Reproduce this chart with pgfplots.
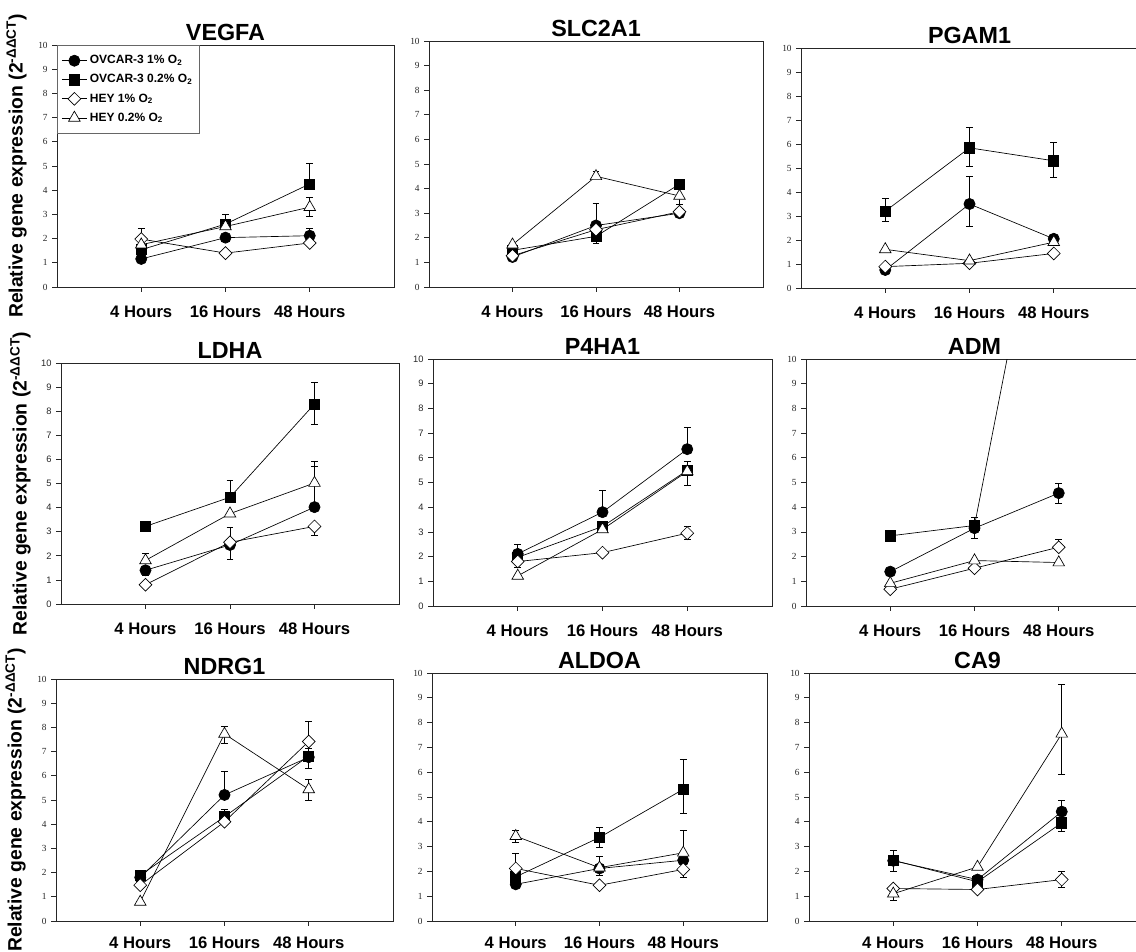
\documentclass[border=0pt]{standalone}
\usepackage{fontspec}
\setmainfont{Liberation Sans}
\newfontfamily\tickserif{Liberation Serif}
\usepackage{pgfplots}
\pgfplotsset{compat=1.18}
\pgfplotsset{
  table/x=x, table/y=y, table/y error plus=ep, table/y error minus=em,
  panel/.style={
    scale only axis, anchor=south west,
    xmin=0, xmax=4, ymin=0, ymax=10,
    xtick={1,2,3}, xticklabels={4 Hours,16 Hours,48 Hours},
    ytick={0,1,...,10},
    tick align=outside, xtick pos=bottom, ytick pos=left,
    major tick length=3.5pt,
    axis line style={line width=0.6pt, black!85},
    tick style={line width=0.5pt, black!85},
    clip marker paths=true,
    title style={font=\bfseries\fontsize{17.5}{19}\selectfont, at={(0.5,1)}, anchor=base, yshift=-2.75pt},
    xticklabel style={font=\bfseries\fontsize{12.5}{14}\selectfont, yshift=-7pt},
    yticklabel style={font=\tickserif\fontsize{7}{8}\selectfont, black!85},
    /pgf/number format/assume math mode=true,
    ylabel style={font=\bfseries\fontsize{14.5}{17}\selectfont, at={(axis description cs:-0.12,0.5)}, anchor=center},
    error bars/y dir=both, error bars/y explicit,
    error bars/error bar style={line width=0.5pt, black},
    error bars/error mark options={rotate=90, mark size=2.6pt, line width=0.5pt, black},
    legend image code/.code={\draw[mark repeat=2,mark phase=2] plot coordinates {(0cm,0cm) (0.33cm,0cm) (0.66cm,0cm)};},
  },
  bottomrow/.style={xticklabel style={yshift=2pt}},
  sansticks/.style={yticklabel style={font=\fontsize{7}{8}\selectfont}},
  sA/.style={black, solid, line width=0.5pt, mark=*, mark size=4.2pt, mark options={fill=black, draw=black}},
  sB/.style={black, solid, line width=0.5pt, mark=square*, mark size=3.8pt, mark options={fill=black, draw=black}},
  sC/.style={black, solid, line width=0.5pt, mark=square*, mark size=3.4pt, mark options={rotate=45, fill=white, draw=black}},
  sD/.style={black, solid, line width=0.5pt, mark=triangle*, mark size=5pt, mark options={fill=white, draw=black}},
}
\newcommand\ylab{Relative gene expression (2\textsuperscript{-ΔΔCT})}
\begin{document}
\begin{tikzpicture}
\useasboundingbox (0,0) rectangle (852pt,-714pt);
% ---------------- VEGFA
\begin{axis}[panel, at={(42.75pt,-215.25pt)}, width=252.75pt, height=181.5pt, title={VEGFA}, ylabel={\ylab},
  legend cell align=left,
  legend style={at={(0,1)}, anchor=north west, draw=black!60, line width=0.8pt, fill=white,
    font=\bfseries\fontsize{9}{10}\selectfont, row sep=2.5pt, inner xsep=3pt, inner ysep=5.5pt}]
\addplot[sA] table {x y ep em
1 1.16 0 0
2 2.04 0.12 0
3 2.12 0.30 0
};
\addlegendentry{OVCAR-3 1\% O\textsubscript{2}}
\addplot[sB] table {x y ep em
1 1.54 0 0
2 2.60 0.42 0
3 4.26 0.83 0
};
\addlegendentry{OVCAR-3 0.2\% O\textsubscript{2}}
\addplot[sC] table {x y ep em
1 1.98 0.45 0
2 1.40 0 0
3 1.82 0 0
};
\addlegendentry{HEY 1\% O\textsubscript{2}}
\addplot[sD] table {x y ep em
1 1.75 0 0
2 2.50 0 0
3 3.30 0.40 0.38
};
\addlegendentry{HEY 0.2\% O\textsubscript{2}}
\end{axis}
% ---------------- SLC2A1
\begin{axis}[panel, at={(321.75pt,-215.25pt)}, width=250.5pt, height=184.5pt, title={SLC2A1}]
\addplot[sA] table {x y ep em
1 1.22 0 0
2 2.50 0.90 0
3 3.00 0 0
};
\addplot[sB] table {x y ep em
1 1.49 0 0
2 2.06 0 0.30
3 4.18 0 0
};
\addplot[sC] table {x y ep em
1 1.27 0 0
2 2.33 0 0
3 3.06 0 0
};
\addplot[sD] table {x y ep em
1 1.72 0 0
2 4.50 0.20 0
3 3.70 0 0.35
};
\end{axis}
% ---------------- PGAM1
\begin{axis}[panel, at={(600.75pt,-216pt)}, width=252.75pt, height=180pt, title={PGAM1}]
\addplot[sA] table {x y ep em
1 0.75 0 0
2 3.50 1.15 0.92
3 2.05 0 0
};
\addplot[sB] table {x y ep em
1 3.20 0.52 0.41
2 5.84 0.85 0.75
3 5.30 0.79 0.70
};
\addplot[sC] table {x y ep em
1 0.89 0 0
2 1.03 0 0
3 1.44 0 0
};
\addplot[sD] table {x y ep em
1 1.61 0 0
2 1.14 0 0
3 1.91 0 0
};
\end{axis}
% ---------------- LDHA
\begin{axis}[panel, sansticks, at={(45.75pt,-453pt)}, width=253.5pt, height=180.75pt, title={LDHA}, ylabel={\ylab}]
\addplot[sA] table {x y ep em
1 1.40 0 0.20
2 2.45 0.75 0.60
3 4.02 1.68 0
};
\addplot[sB] table {x y ep em
1 3.22 0.15 0.15
2 4.43 0.72 0
3 8.30 0.91 0.83
};
\addplot[sC] table {x y ep em
1 0.80 0 0
2 2.56 0 0
3 3.22 0 0.37
};
\addplot[sD] table {x y ep em
1 1.81 0.28 0
2 3.75 0 0
3 5.02 0.90 0
};
\end{axis}
% ---------------- P4HA1
\begin{axis}[panel, sansticks, at={(324.75pt,-454.5pt)}, width=254.25pt, height=185.25pt, title={P4HA1}]
\addplot[sA] table {x y ep em
1 2.11 0.40 0
2 3.80 0.88 0
3 6.35 0.89 0
};
\addplot[sB] table {x y ep em
1 1.97 0 0
2 3.22 0 0
3 5.49 0 0.60
};
\addplot[sC] table {x y ep em
1 1.80 0 0.25
2 2.16 0 0
3 2.95 0.27 0.27
};
\addplot[sD] table {x y ep em
1 1.22 0 0
2 3.10 0 0
3 5.45 0.40 0
};
\end{axis}
% ---------------- ADM
\begin{axis}[panel, at={(604.5pt,-454.5pt)}, width=252.75pt, height=185.25pt, title={ADM}]
\addplot[sA] table {x y ep em
1 1.39 0 0
2 3.15 0 0.43
3 4.57 0.40 0.41
};
\addplot[sB] table {x y ep em
1 2.84 0 0
2 3.26 0.35 0
3 20.7 0 0
};
\addplot[sC] table {x y ep em
1 0.68 0 0
2 1.53 0 0
3 2.38 0.30 0
};
\addplot[sD] table {x y ep em
1 0.92 0 0
2 1.84 0 0
3 1.76 0 0
};
\end{axis}
% ---------------- NDRG1
\begin{axis}[panel, bottomrow, at={(42pt,-690.75pt)}, width=252.75pt, height=181.5pt, title={NDRG1}, ylabel={\ylab}]
\addplot[sA] table {x y ep em
1 1.80 0 0
2 5.21 0.96 0
3 6.77 0 0.46
};
\addplot[sB] table {x y ep em
1 1.89 0 0
2 4.31 0.30 0
3 6.82 0.30 0
};
\addplot[sC] table {x y ep em
1 1.48 0 0
2 4.10 0 0
3 7.42 0.85 0
};
\addplot[sD] table {x y ep em
1 0.79 0 0
2 7.73 0.30 0.38
3 5.44 0.42 0.44
};
\end{axis}
% ---------------- ALDOA
\begin{axis}[panel, bottomrow, at={(324pt,-690.75pt)}, width=251.25pt, height=186pt, title={ALDOA}]
\addplot[sA] table {x y ep em
1 1.48 0 0
2 2.12 0 0
3 2.45 0 0
};
\addplot[sB] table {x y ep em
1 1.78 0 0
2 3.37 0.39 0.38
3 5.31 1.19 0.97
};
\addplot[sC] table {x y ep em
1 2.12 0.60 0
2 1.44 0 0
3 2.08 0 0.30
};
\addplot[sD] table {x y ep em
1 3.42 0.25 0.23
2 2.15 0.45 0.30
3 2.75 0.92 0
};
\end{axis}
% ---------------- CA9
\begin{axis}[panel, bottomrow, at={(606.75pt,-690.75pt)}, width=252.75pt, height=186pt, title={CA9}]
\addplot[sA] table {x y ep em
1 2.43 0.40 0.41
2 1.67 0 0
3 4.41 0.47 0
};
\addplot[sB] table {x y ep em
1 2.45 0 0
2 1.58 0 0
3 3.96 0 0.36
};
\addplot[sC] table {x y ep em
1 1.31 0 0
2 1.27 0 0
3 1.67 0.34 0.30
};
\addplot[sD] table {x y ep em
1 1.10 0 0.26
2 2.18 0 0
3 7.55 1.98 1.62
};
\end{axis}
\end{tikzpicture}
\end{document}
